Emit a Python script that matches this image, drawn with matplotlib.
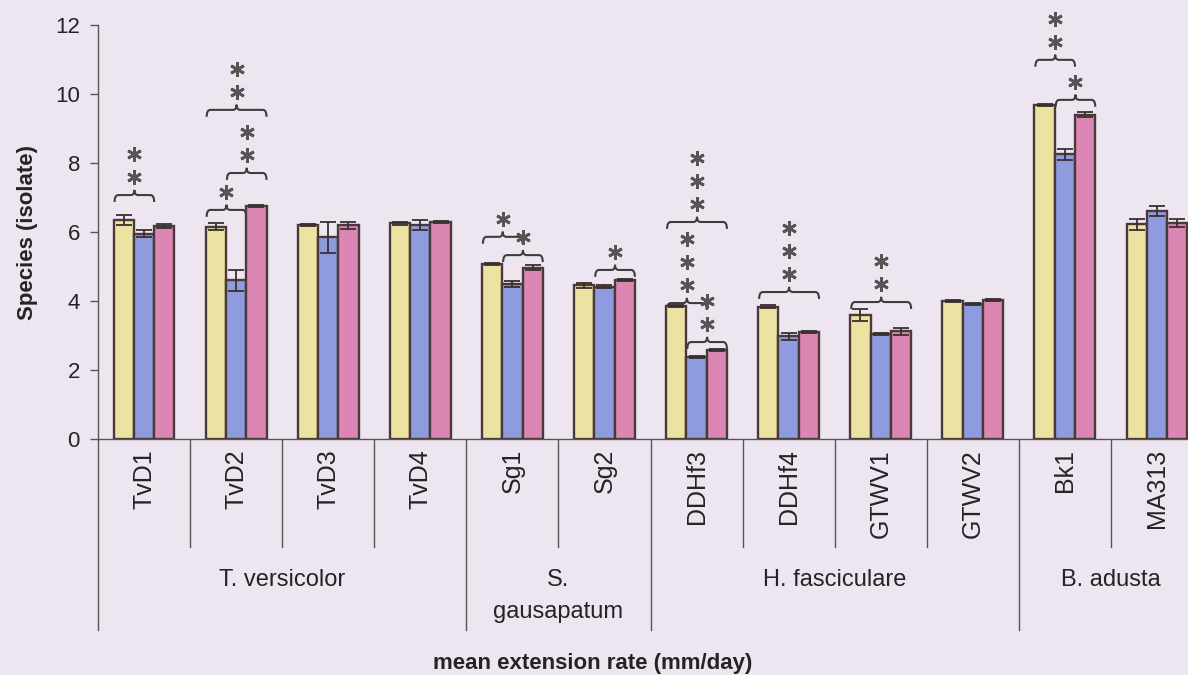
import matplotlib
matplotlib.use('Agg')
import matplotlib.pyplot as plt
from matplotlib.path import Path
from matplotlib.patches import PathPatch

plt.rcParams['font.family'] = ['Liberation Sans', 'DejaVu Sans']

# isolates and species groups
isolates = ['TvD1', 'TvD2', 'TvD3', 'TvD4', 'Sg1', 'Sg2', 'DDHf3', 'DDHf4',
            'GTWV1', 'GTWV2', 'Bk1', 'MA313']
groups = ['T. versicolor', 'S.\ngausapatum', 'H. fasciculare', 'B. adusta']
group_sizes = [4, 2, 4, 2]

# mean extension rate (mm/day) for the three treatments
yellow_vals = [6.35, 6.15, 6.2, 6.25, 5.07, 4.45, 3.85, 3.84, 3.6, 4.0, 9.68, 6.22]
blue_vals = [5.95, 4.6, 5.85, 6.2, 4.5, 4.42, 2.38, 2.98, 3.05, 3.9, 8.25, 6.6]
pink_vals = [6.18, 6.75, 6.2, 6.28, 4.97, 4.6, 2.57, 3.1, 3.12, 4.02, 9.4, 6.27]

yellow_err = [0.15, 0.1, 0.03, 0.05, 0.03, 0.07, 0.03, 0.03, 0.17, 0.03, 0.03, 0.17]
blue_err = [0.1, 0.3, 0.45, 0.15, 0.08, 0.05, 0.03, 0.1, 0.03, 0.03, 0.15, 0.15]
pink_err = [0.05, 0.03, 0.1, 0.03, 0.08, 0.03, 0.03, 0.03, 0.1, 0.03, 0.08, 0.12]

# significance braces: (isolate index, first bar, last bar, brace level, stars)
brace_isolate = [0, 1, 1, 1, 4, 4, 5, 6, 6, 6, 7, 8, 10, 10]
brace_from = [0, 0, 1, 0, 0, 1, 1, 0, 0, 1, 0, 0, 0, 1]
brace_to = [1, 1, 2, 2, 1, 2, 2, 2, 1, 2, 2, 2, 1, 2]
brace_level = [7.07, 6.64, 7.71, 9.54, 5.86, 5.33, 4.9, 6.29, 3.94, 2.81, 4.26, 3.97, 10.99, 9.83]
brace_stars = [2, 1, 2, 2, 1, 1, 1, 3, 3, 2, 3, 2, 2, 1]

bg = '#ede6f1'
ink = '#262226'
colors = ['#ece3a3', '#8e9bde', '#dc86b4']
edge = '#4b3838'


def draw_brace(ax, x0, x1, y, dx=0.04, h_end=0.2, h_tip=0.15):
    xm = (x0 + x1) / 2
    verts = [(x0, y - h_end), (x0, y), (x0 + dx, y), (xm - dx, y),
             (xm, y), (xm, y + h_tip), (xm, y), (xm + dx, y), (x1 - dx, y),
             (x1, y), (x1, y - h_end)]
    codes = [Path.MOVETO, Path.CURVE3, Path.CURVE3, Path.LINETO,
             Path.CURVE3, Path.CURVE3, Path.CURVE3, Path.CURVE3, Path.LINETO,
             Path.CURVE3, Path.CURVE3]
    ax.add_patch(PathPatch(Path(verts, codes), fill=False, edgecolor='#3d3d3d',
                           lw=1.5, clip_on=False))


fig = plt.figure(figsize=(11.88, 6.75), dpi=100, facecolor=bg)
ax = fig.add_axes([98 / 1188, 236 / 675, 1105 / 1188, 414 / 675])
ax.set_facecolor(bg)

x = list(range(len(isolates)))
offsets = [-0.22, 0.0, 0.22]
series = [(yellow_vals, yellow_err), (blue_vals, blue_err), (pink_vals, pink_err)]
for k, (vals, errs) in enumerate(series):
    xs = [i + offsets[k] for i in x]
    ax.bar(xs, vals, width=0.22, color=colors[k], edgecolor=edge, linewidth=1.7,
           zorder=2)
    ax.errorbar(xs, vals, yerr=errs, fmt='none', ecolor='#3a3030', elinewidth=1.3,
                capsize=5.5, capthick=1.3, zorder=3)

# significance braces and stars
for i, a, b, lev, n in zip(brace_isolate, brace_from, brace_to, brace_level, brace_stars):
    x0 = i + offsets[a] - 0.1
    x1 = i + offsets[b] + 0.11
    draw_brace(ax, x0, x1, lev)
    xm = (x0 + x1) / 2
    sy = [lev + 0.52 + 0.67 * s for s in range(n)]
    ax.plot([xm] * n, sy, linestyle='none', marker=(6, 2, 0), markersize=10.5,
            mew=2.0, color='#555555', clip_on=False, zorder=4)

ax.set_xlim(-0.5, 11.5)
ax.set_ylim(0, 12)
ax.set_yticks([0, 2, 4, 6, 8, 10, 12])
ax.tick_params(axis='y', direction='out', length=6, width=1, color='#555555',
               labelsize=16, labelcolor=ink, pad=7)
ax.set_xticks([])
for s in ['top', 'right']:
    ax.spines[s].set_visible(False)
for s in ['left', 'bottom']:
    ax.spines[s].set_color('#555555')
    ax.spines[s].set_linewidth(1.0)

ax.set_ylabel('Species (isolate)', fontsize=16, fontweight='bold', color=ink,
              labelpad=12)

# category axis below the plot
trans = ax.get_xaxis_transform()
for i, name in enumerate(isolates):
    ax.text(i, -0.024, name, rotation=90, ha='center', va='top', fontsize=18,
            color=ink, transform=trans)

start = 0
group_edges = [-0.5]
for g, n in zip(groups, group_sizes):
    center = start + (n - 1) / 2
    if '\n' in g:
        first, second = g.split('\n')
        ax.text(center, -0.341, first, ha='center', va='center', fontsize=17,
                color=ink, transform=trans)
        ax.text(center, -0.418, second, ha='center', va='center', fontsize=17,
                color=ink, transform=trans)
    else:
        ax.text(center, -0.341, g, ha='center', va='center', fontsize=17,
                color=ink, transform=trans)
    start += n
    group_edges.append(start - 0.5)

for b in [i + 0.5 for i in range(-1, len(isolates))]:
    low = -0.461 if b in group_edges else -0.261
    ax.plot([b, b], [0, low], color='#555555', lw=1.0, transform=trans,
            clip_on=False)

fig.text(593 / 1188, 12 / 675, 'mean extension rate (mm/day)', ha='center',
         va='center', fontsize=16, fontweight='bold', color=ink)

fig.savefig('out.png', dpi=100, facecolor=bg)
